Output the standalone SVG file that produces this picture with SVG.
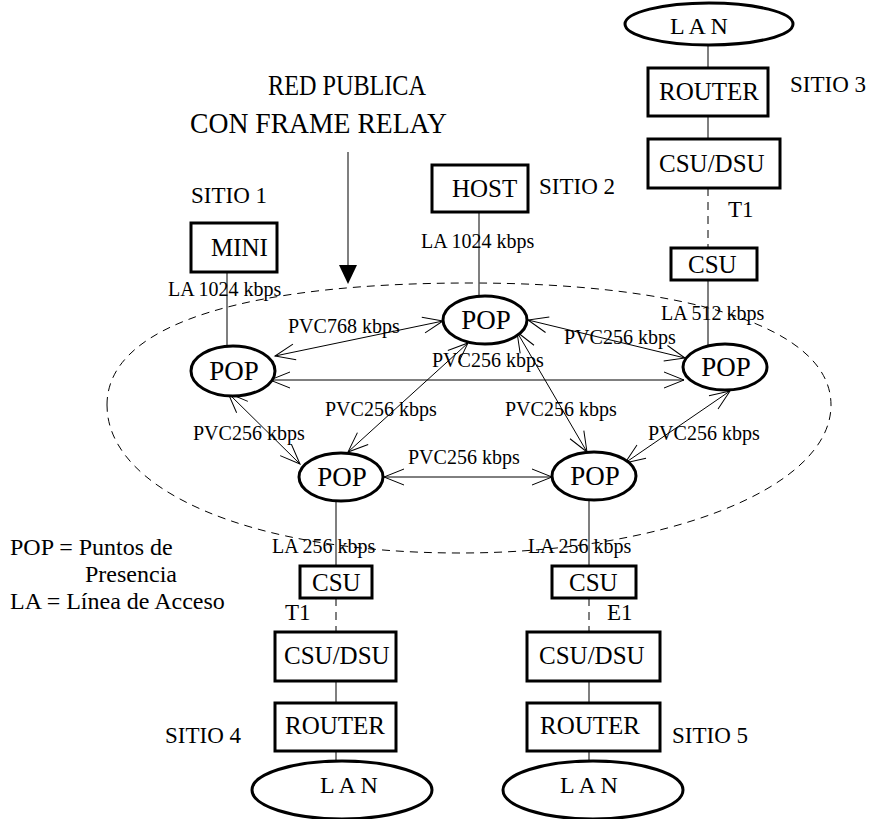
<svg xmlns="http://www.w3.org/2000/svg" width="870" height="819" viewBox="0 0 870 819">
<style>
text{font-family:"Liberation Serif","Times New Roman",serif;fill:#000}
.box{fill:#fff;stroke:#000;stroke-width:3}
.ell{fill:#fff;stroke:#000;stroke-width:3}
.ln{stroke:#555;stroke-width:1.5;fill:none}
.dl{stroke:#555;stroke-width:1.5;stroke-dasharray:8 6;fill:none}
.arr{stroke:#000;stroke-width:1;fill:none;marker-start:url(#ah);marker-end:url(#ah)}
.tb{font-size:25px}
.tp{font-size:27px}
.t24{font-size:24px}
.t23{font-size:23px}
.t20{font-size:20px}
.tt{font-size:29px}
</style>
<defs>
<marker id="ah" viewBox="-1 -10 23 20" refX="20" refY="0" markerWidth="23" markerHeight="20" markerUnits="userSpaceOnUse" orient="auto-start-reverse">
<path d="M0,-8 L20,0 L0,8" fill="none" stroke="#000" stroke-width="1"/>
</marker>
</defs>
<rect width="870" height="819" fill="#fff"/>

<g id="cloud">
<path d="M107,405 C107,320 260,283 470,283 C680,283 831,325 831,405 C831,490 660,553 460,553 C250,553 107,490 107,405 Z" fill="none" stroke="#000" stroke-width="1" stroke-dasharray="8 6"/>
</g>

<g id="connectors">
<line class="ln" x1="708" y1="45" x2="708" y2="68"/>
<line class="ln" x1="708" y1="116" x2="708" y2="139"/>
<line class="dl" x1="708" y1="188" x2="708" y2="248"/>
<line class="ln" x1="708" y1="280" x2="708" y2="346"/>
<line class="ln" x1="479" y1="212" x2="479" y2="297"/>
<line class="ln" x1="227" y1="272" x2="227" y2="347"/>
<line class="ln" x1="336" y1="500" x2="336" y2="566"/>
<line class="dl" x1="336" y1="598" x2="336" y2="632"/>
<line class="ln" x1="336" y1="681" x2="336" y2="703"/>
<line class="ln" x1="336" y1="751" x2="336" y2="762"/>
<line class="ln" x1="589" y1="500" x2="589" y2="566"/>
<line class="dl" x1="589" y1="598" x2="589" y2="632"/>
<line class="ln" x1="589" y1="681" x2="589" y2="703"/>
<line class="ln" x1="589" y1="751" x2="589" y2="762"/>
<line x1="348" y1="152" x2="348" y2="268" stroke="#555" stroke-width="1.5"/>
<polygon points="339,265 357,265 348,284" fill="#000"/>
<line class="arr" x1="275" y1="356" x2="443" y2="321"/>
<line class="arr" x1="270" y1="380" x2="684" y2="380"/>
<line class="arr" x1="528" y1="320" x2="685" y2="358"/>
<line class="arr" x1="228" y1="393" x2="300" y2="464"/>
<line class="arr" x1="468" y1="343" x2="348" y2="452"/>
<line class="arr" x1="517" y1="332" x2="587" y2="452"/>
<line class="arr" x1="730" y1="391" x2="625" y2="463"/>
<line class="arr" x1="384" y1="477" x2="552" y2="477"/>
</g>

<g id="title">
<text class="tt" x="268" y="95" textLength="158" lengthAdjust="spacingAndGlyphs">RED PUBLICA</text>
<text class="tt" x="190" y="133" textLength="257" lengthAdjust="spacingAndGlyphs">CON FRAME RELAY</text>
</g>

<g id="lan3"><ellipse class="ell" cx="709" cy="24" rx="84" ry="21"/><text class="t24" x="670" y="34">L A N</text></g>
<g id="router3"><rect class="box" x="648" y="68" width="120" height="48"/><text class="tb" x="659" y="100">ROUTER</text></g>
<g id="csudsu3"><rect class="box" x="648" y="139" width="132" height="49"/><text class="tb" x="659" y="172">CSU/DSU</text></g>
<g id="csu3"><rect class="box" x="671" y="248" width="86" height="32"/><text class="tb" x="688" y="273">CSU</text></g>

<g id="host"><rect class="box" x="432" y="165" width="96" height="47"/><text class="tb" x="452" y="197">HOST</text></g>
<g id="mini"><rect class="box" x="191" y="223" width="86" height="49"/><text class="tb" x="211" y="256">MINI</text></g>

<g id="pop-top"><ellipse class="ell" cx="485" cy="320" rx="42" ry="24"/><text class="tp" x="486" y="329" text-anchor="middle">POP</text></g>
<g id="pop-left"><ellipse class="ell" cx="233" cy="371" rx="42" ry="25"/><text class="tp" x="234" y="380" text-anchor="middle">POP</text></g>
<g id="pop-right"><ellipse class="ell" cx="725" cy="367" rx="42" ry="23"/><text class="tp" x="726" y="376" text-anchor="middle">POP</text></g>
<g id="pop-bl"><ellipse class="ell" cx="341" cy="477" rx="42" ry="24"/><text class="tp" x="342" y="486" text-anchor="middle">POP</text></g>
<g id="pop-br"><ellipse class="ell" cx="594" cy="476" rx="42" ry="24"/><text class="tp" x="595" y="485" text-anchor="middle">POP</text></g>

<g id="csu4"><rect class="box" x="300" y="566" width="72" height="32"/><text class="tb" x="312" y="591">CSU</text></g>
<g id="csudsu4"><rect class="box" x="275" y="632" width="121" height="49"/><text class="tb" x="284" y="664">CSU/DSU</text></g>
<g id="router4"><rect class="box" x="275" y="703" width="121" height="48"/><text class="tb" x="285" y="734">ROUTER</text></g>
<g id="lan4"><ellipse class="ell" cx="342" cy="790" rx="90" ry="29"/><text class="t24" x="320" y="793">L A N</text></g>

<g id="csu5"><rect class="box" x="552" y="566" width="84" height="32"/><text class="tb" x="569" y="591">CSU</text></g>
<g id="csudsu5"><rect class="box" x="527" y="632" width="133" height="49"/><text class="tb" x="539" y="664">CSU/DSU</text></g>
<g id="router5"><rect class="box" x="527" y="703" width="133" height="48"/><text class="tb" x="540" y="734">ROUTER</text></g>
<g id="lan5"><ellipse class="ell" cx="593" cy="790" rx="90" ry="29"/><text class="t24" x="560" y="793">L A N</text></g>

<g id="labels">
<text class="t23" x="790" y="92">SITIO 3</text>
<text class="t23" x="539" y="194">SITIO 2</text>
<text class="t23" x="191" y="203">SITIO 1</text>
<text class="t23" x="165" y="743">SITIO 4</text>
<text class="t23" x="672" y="743">SITIO 5</text>
<text class="t23" x="728" y="217">T1</text>
<text class="t23" x="285" y="620">T1</text>
<text class="t23" x="607" y="620">E1</text>
<text class="t20" x="661" y="320">LA 512 kbps</text>
<text class="t20" x="421" y="248">LA 1024 kbps</text>
<text class="t20" x="168" y="296">LA 1024 kbps</text>
<text class="t20" x="272" y="553">LA 256 kbps</text>
<text class="t20" x="528" y="553">LA 256 kbps</text>
<text class="t20" x="288" y="333">PVC768 kbps</text>
<text class="t20" x="432" y="367">PVC256 kbps</text>
<text class="t20" x="564" y="344">PVC256 kbps</text>
<text class="t20" x="325" y="416">PVC256 kbps</text>
<text class="t20" x="505" y="416">PVC256 kbps</text>
<text class="t20" x="193" y="440">PVC256 kbps</text>
<text class="t20" x="648" y="440">PVC256 kbps</text>
<text class="t20" x="408" y="464">PVC256 kbps</text>
</g>

<g id="legend">
<text class="t24" x="10" y="555">POP = Puntos de</text>
<text class="t24" x="85" y="582">Presencia</text>
<text class="t24" x="10" y="609">LA = Línea de Acceso</text>
</g>
</svg>
